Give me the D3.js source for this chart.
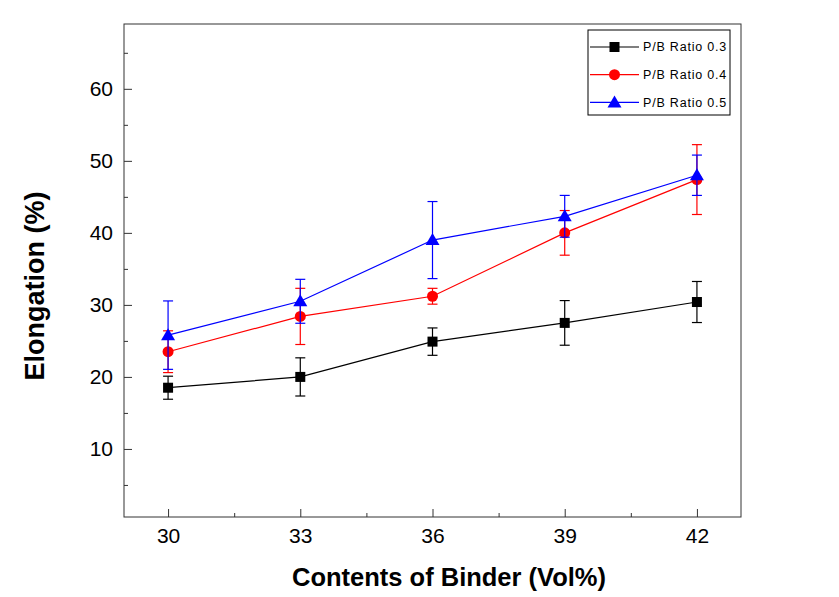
<!DOCTYPE html>
<html><head><meta charset="utf-8">
<script src="https://cdn.jsdelivr.net/npm/d3@7/dist/d3.min.js"></script>
<style>body{margin:0;background:#fff;} svg{display:block;} text{font-family:"Liberation Sans",Arial,sans-serif;}</style>
</head><body>
<svg id="c" width="839" height="597"></svg>
<script>
const categories = [30, 33, 36, 39, 42];
const seriesNames = ["P/B Ratio 0.3", "P/B Ratio 0.4", "P/B Ratio 0.5"];
const values03 = [18.5, 20.0, 24.9, 27.5, 30.4];
const errors03 = [1.6, 2.65, 1.9, 3.1, 2.85];
const values04 = [23.5, 28.4, 31.2, 40.0, 47.4];
const errors04 = [2.9, 3.9, 1.1, 3.1, 4.85];
const values05 = [25.8, 30.5, 39.0, 42.3, 48.0];
const errors05 = [4.75, 3.05, 5.35, 2.9, 2.8];
const yTicks = [10, 20, 30, 40, 50, 60];
const yMinor = [5, 15, 25, 35, 45, 55, 65];
const xMinor = [31.5, 34.5, 37.5, 40.5];
const colors = ["#000000", "#ff0000", "#0000ff"];
const markers = ["square", "circle", "triangle"];

const series = [
  {name: seriesNames[0], vals: values03, errs: errors03, color: colors[0], marker: markers[0]},
  {name: seriesNames[1], vals: values04, errs: errors04, color: colors[1], marker: markers[1]},
  {name: seriesNames[2], vals: values05, errs: errors05, color: colors[2], marker: markers[2]}
];

const L = 124, R = 741, T = 24, B = 517;
const x = d3.scaleLinear().domain([29, 43]).range([L, R]);
const y = d3.scaleLinear().domain([0.55, 69]).range([B, T]);
const svg = d3.select("#c");

// frame
svg.append("rect").attr("x", L).attr("y", T).attr("width", R - L).attr("height", B - T)
  .attr("fill", "none").attr("stroke", "#333").attr("stroke-width", 1);

// axes with inward ticks
const gx = svg.append("g").attr("transform", `translate(0,${B})`)
  .call(d3.axisBottom(x).tickValues(categories).tickSize(-8).tickPadding(11).tickFormat(d3.format("d")));
gx.select(".domain").remove();
gx.selectAll("line").attr("stroke", "#333");
gx.selectAll("text").attr("font-size", 21).attr("fill", "#000");
const gxm = svg.append("g").attr("transform", `translate(0,${B})`)
  .call(d3.axisBottom(x).tickValues(xMinor).tickSize(-4).tickFormat(""));
gxm.select(".domain").remove();
gxm.selectAll("line").attr("stroke", "#333");

const gy = svg.append("g").attr("transform", `translate(${L},0)`)
  .call(d3.axisLeft(y).tickValues(yTicks).tickSize(-8).tickPadding(11).tickFormat(d3.format("d")));
gy.select(".domain").remove();
gy.selectAll("line").attr("stroke", "#333");
gy.selectAll("text").attr("font-size", 21).attr("fill", "#000");
const gym = svg.append("g").attr("transform", `translate(${L},0)`)
  .call(d3.axisLeft(y).tickValues(yMinor).tickSize(-4).tickFormat(""));
gym.select(".domain").remove();
gym.selectAll("line").attr("stroke", "#333");

function drawMarker(g, type, cx, cy, color) {
  if (type === "square") {
    g.append("rect").attr("x", cx - 5).attr("y", cy - 5).attr("width", 10).attr("height", 10).attr("fill", color);
  } else if (type === "circle") {
    g.append("circle").attr("cx", cx).attr("cy", cy).attr("r", 5.5).attr("fill", color);
  } else {
    g.append("path").attr("d", `M${cx},${cy - 7}L${cx + 7},${cy + 5}L${cx - 7},${cy + 5}Z`).attr("fill", color);
  }
}

const line = d3.line().x(d => x(d[0])).y(d => y(d[1]));
series.forEach(s => {
  const g = svg.append("g");
  const pts = categories.map((c, i) => [c, s.vals[i], s.errs[i]]);
  pts.forEach(p => {
    const px = x(p[0]);
    g.append("line").attr("x1", px).attr("x2", px).attr("y1", y(p[1] - p[2])).attr("y2", y(p[1] + p[2]))
      .attr("stroke", s.color).attr("stroke-width", 1.2);
    [p[1] - p[2], p[1] + p[2]].forEach(v => {
      g.append("line").attr("x1", px - 5).attr("x2", px + 5).attr("y1", y(v)).attr("y2", y(v))
        .attr("stroke", s.color).attr("stroke-width", 1.2);
    });
  });
  g.append("path").datum(pts).attr("d", line).attr("fill", "none").attr("stroke", s.color).attr("stroke-width", 1.2);
  pts.forEach(p => drawMarker(g, s.marker, x(p[0]), y(p[1]), s.color));
});

// legend
const lg = svg.append("g");
lg.append("rect").attr("x", 588).attr("y", 30).attr("width", 142).attr("height", 85)
  .attr("fill", "#fff").attr("stroke", "#000").attr("stroke-width", 1);
series.forEach((s, i) => {
  const ly = 47 + i * 27.7;
  lg.append("line").attr("x1", 590).attr("x2", 639).attr("y1", ly).attr("y2", ly).attr("stroke", s.color).attr("stroke-width", 1.2);
  drawMarker(lg, s.marker, 614.5, ly, s.color);
  lg.append("text").attr("x", 643).attr("y", ly).attr("dy", "0.35em").attr("font-size", 12.5)
    .attr("letter-spacing", "0.8px").attr("fill", "#000").text(s.name);
});

// axis titles
svg.append("text").attr("x", 449).attr("y", 586).attr("text-anchor", "middle")
  .attr("font-size", 25.5).attr("font-weight", "bold").attr("fill", "#000").text("Contents of Binder (Vol%)");
svg.append("text").attr("transform", "translate(44,286) rotate(-90)").attr("text-anchor", "middle")
  .attr("font-size", 27).attr("font-weight", "bold").attr("fill", "#000").text("Elongation (%)");
</script>
</body></html>
